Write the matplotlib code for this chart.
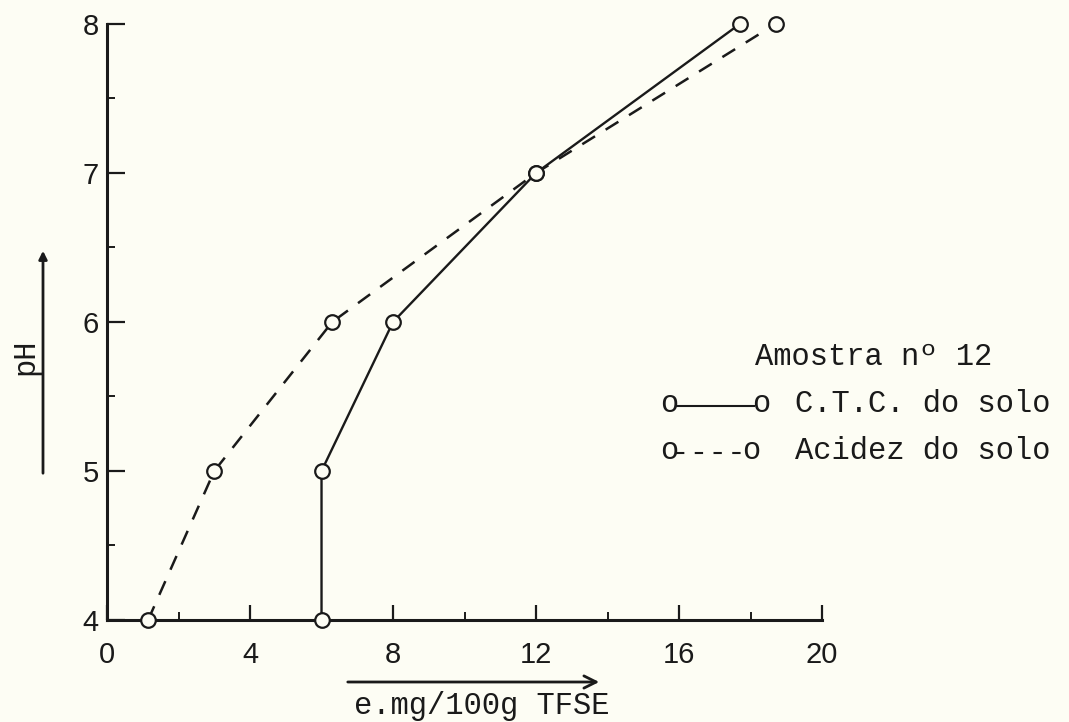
import numpy as np
import matplotlib.pyplot as plt
from matplotlib.lines import Line2D
from matplotlib.ticker import MultipleLocator

# pH against meq/100g of soil, sample 12
ph = [4, 5, 6, 7, 8]
ctc = [6.0, 6.0, 8.0, 12.0, 17.7]       # C.T.C. do solo
acidez = [1.15, 3.0, 6.3, 12.0, 18.7]   # Acidez do solo

x_ticks = [0, 4, 8, 12, 16, 20]
y_ticks = [4, 5, 6, 7, 8]

paper = '#fdfdf4'
ink = '#1a1a1a'
mono = 'Liberation Mono'
sans = 'Liberation Sans'

fig = plt.figure(figsize=(10.69, 7.22), dpi=100, facecolor=paper)
ax = fig.add_axes([0.1001, 0.1413, 0.6689, 0.8255], facecolor=paper)

ax.plot(ctc, ph, color=ink, lw=1.7, marker='o', ms=10.5, mfc=paper,
        mec=ink, mew=1.6, clip_on=False, zorder=3)
ax.plot(acidez, ph, color=ink, lw=1.8, dashes=(6, 5), marker='o', ms=10.5,
        mfc=paper, mec=ink, mew=1.6, clip_on=False, zorder=3)

ax.set_xlim(0, 20)
ax.set_ylim(4, 8)
for side in ['top', 'right']:
    ax.spines[side].set_visible(False)
for side in ['left', 'bottom']:
    ax.spines[side].set_linewidth(2.2)
    ax.spines[side].set_color(ink)

ax.set_xticks(x_ticks)
ax.set_yticks(y_ticks)
ax.xaxis.set_minor_locator(MultipleLocator(2))
ax.yaxis.set_minor_locator(MultipleLocator(0.5))
ax.tick_params(axis='both', which='major', direction='in', color=ink,
               width=1.6, labelsize=21, labelcolor=ink)
ax.tick_params(axis='x', which='major', length=11, pad=15)
ax.tick_params(axis='y', which='major', length=13, pad=6)
ax.tick_params(axis='both', which='minor', direction='in', color=ink,
               width=1.4, length=6)
for lab in ax.get_xticklabels() + ax.get_yticklabels():
    lab.set_fontfamily(sans)

# axis titles, typed by hand on the sheet
fig.text(25 / 1069, 1 - 357 / 722, 'pH', rotation=90, fontsize=22,
         family=mono, color=ink, ha='center', va='center')
ax.annotate('', xy=(43, 722 - 248), xytext=(43, 722 - 476),
            xycoords='figure pixels', textcoords='figure pixels',
            arrowprops=dict(arrowstyle='-|>', color=ink, lw=2.0,
                            mutation_scale=12))

fig.text(482 / 1069, 1 - 706 / 722, 'e.mg/100g TFSE', fontsize=22,
         family=mono, color=ink, ha='center', va='center')
ax.annotate('', xy=(602, 722 - 682), xytext=(345, 722 - 682),
            xycoords='figure pixels', textcoords='figure pixels',
            arrowprops=dict(arrowstyle='->', color=ink, lw=2.0,
                            mutation_scale=22))

# legend block
fig.text(755 / 1069, 1 - 357 / 722, 'Amostra nº 12', fontsize=22,
         family=mono, color=ink, ha='left', va='center')

def legend_row(y_px, label, dashed):
    yb = 1 - y_px / 722
    fig.text(660 / 1069, yb, 'o', fontsize=22, family=mono, color=ink,
             ha='left', va='baseline')
    end = 742 if dashed else 752
    fig.text(end / 1069, yb, 'o', fontsize=22, family=mono, color=ink,
             ha='left', va='baseline')
    ly = yb + 6 / 722
    line = Line2D([676 / 1069, (end + 2) / 1069], [ly, ly],
                  transform=fig.transFigure, color=ink, lw=1.5)
    if dashed:
        line.set_dashes((4, 5))
    fig.add_artist(line)
    fig.text(795 / 1069, yb, label, fontsize=22, family=mono, color=ink,
             ha='left', va='baseline')

legend_row(412, 'C.T.C. do solo', dashed=False)
legend_row(459, 'Acidez do solo', dashed=True)

fig.savefig('out.png', dpi=100, facecolor=paper)
